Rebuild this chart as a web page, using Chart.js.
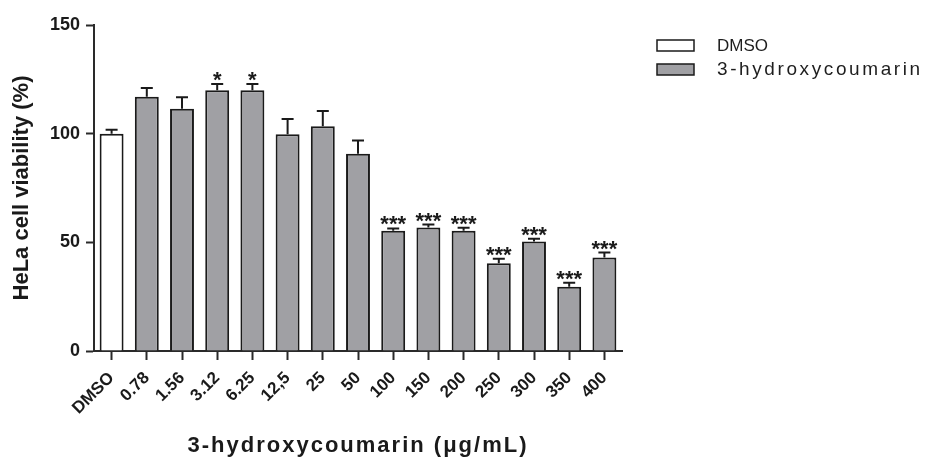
<!DOCTYPE html>
<html>
<head>
<meta charset="utf-8">
<script src="https://cdn.jsdelivr.net/npm/chart.js@4.4.1/dist/chart.umd.min.js"></script>
<style>
html,body{margin:0;padding:0;background:#fff;}
canvas{display:block;}
</style>
</head>
<body>
<canvas id="c" width="929" height="459"></canvas>
<script>
const categories = ['DMSO','0.78','1.56','3.12','6.25','12,5','25','50','100','150','200','250','300','350','400'];
const dmsoValues = [100, null, null, null, null, null, null, null, null, null, null, null, null, null, null];
const hcValues = [null, 117, 111.5, 120, 120, 99.7, 103.4, 90.8, 55.3, 56.8, 55.3, 40.4, 50.4, 29.6, 43.0];
const errValues = [1.8, 4.0, 5.2, 2.8, 2.8, 7.0, 7.0, 6.1, 1.1, 1.4, 1.4, 2.0, 1.2, 1.8, 2.3];
const sigMarks = ['', '', '', '*', '*', '', '', '', '***', '***', '***', '***', '***', '***', '***'];
const yTicks = [0, 50, 100, 150];
const seriesNames = ['DMSO', '3-hydroxycoumarin'];
const xTitle = '3-hydroxycoumarin (\u03bcg/mL)';
const yTitle = 'HeLa cell viability (%)';

const FONT = "'Liberation Sans', Arial, sans-serif";
const INK = '#1a1a1a';

const errorBarPlugin = {
  id: 'errorBars',
  afterDatasetsDraw(chart) {
    const ctx = chart.ctx;
    const y = chart.scales.y;
    ctx.save();
    ctx.strokeStyle = INK;
    ctx.lineWidth = 2;
    chart.data.datasets.forEach((ds, di) => {
      const meta = chart.getDatasetMeta(di);
      meta.data.forEach((bar, i) => {
        const v = ds.data[i];
        if (v === null || v === undefined) return;
        const top = y.getPixelForValue(v);
        const et = y.getPixelForValue(v + errValues[i]);
        ctx.beginPath();
        ctx.moveTo(bar.x, top);
        ctx.lineTo(bar.x, et);
        ctx.moveTo(bar.x - 6, et);
        ctx.lineTo(bar.x + 6, et);
        ctx.stroke();
        const s = sigMarks[i];
        if (s) {
          ctx.fillStyle = INK;
          ctx.font = 'bold 22px ' + FONT;
          ctx.textAlign = 'center';
          ctx.textBaseline = 'alphabetic';
          ctx.fillText(s, bar.x, et + 3);
        }
      });
    });
    ctx.restore();
  }
};

const legendPlugin = {
  id: 'sideLegend',
  afterDraw(chart) {
    const ctx = chart.ctx;
    ctx.save();
    chart.data.datasets.forEach((ds, i) => {
      const bx = 657, by = 40 + i * 24;
      ctx.fillStyle = ds.backgroundColor;
      ctx.fillRect(bx, by, 37, 11);
      ctx.strokeStyle = INK;
      ctx.lineWidth = 1.5;
      ctx.strokeRect(bx, by, 37, 11);
      ctx.fillStyle = '#1e1e1e';
      ctx.font = (i === 1 ? '19px ' : '17px ') + FONT;
      ctx.textAlign = 'left';
      ctx.textBaseline = 'middle';
      ctx.letterSpacing = i === 1 ? '2.6px' : '0px';
      ctx.fillText(ds.label, 717, by + 6);
    });
    ctx.restore();
  }
};

const titleSpacingPlugin = {
  id: 'titleSpacing',
  beforeDraw(chart) {
    const s = chart.scales.x;
    if (s && !s._spaced) {
      const orig = s.drawTitle;
      s.drawTitle = function () {
        this.ctx.save();
        this.ctx.letterSpacing = '2px';
        orig.call(this);
        this.ctx.restore();
      };
      s._spaced = true;
    }
  }
};

new Chart(document.getElementById('c'), {
  type: 'bar',
  data: {
    labels: categories,
    datasets: [
      { label: seriesNames[0], data: dmsoValues, backgroundColor: '#ffffff', borderColor: INK, borderWidth: 2, grouped: false, barPercentage: 0.68, categoryPercentage: 1 },
      { label: seriesNames[1], data: hcValues, backgroundColor: '#a0a0a4', borderColor: INK, borderWidth: 2, grouped: false, barPercentage: 0.68, categoryPercentage: 1 }
    ]
  },
  options: {
    responsive: false,
    animation: false,
    devicePixelRatio: 1,
    layout: { padding: { left: 4, right: 307, top: 25, bottom: 0 } },
    plugins: { legend: { display: false }, tooltip: { enabled: false } },
    scales: {
      x: {
        grid: { display: true, drawOnChartArea: false, offset: false, tickLength: 9, tickWidth: 2, tickColor: '#2a2a2a' },
        border: { display: true, color: '#2a2a2a', width: 2 },
        ticks: { color: INK, font: { family: FONT, size: 17, weight: 'bold' }, maxRotation: 45, minRotation: 45, padding: 8, autoSkip: false },
        title: { display: true, text: xTitle, color: INK, font: { family: FONT, size: 22, weight: 'bold' }, padding: { top: 0, bottom: 0 } },
        afterFit(scale) { scale.height = 108; }
      },
      y: {
        min: 0, max: 150,
        afterBuildTicks(scale) { scale.ticks = yTicks.map(v => ({ value: v })); },
        grid: { display: true, drawOnChartArea: false, tickLength: 8, tickWidth: 2, tickColor: '#2a2a2a' },
        border: { display: true, color: '#2a2a2a', width: 2 },
        ticks: { color: INK, font: { family: FONT, size: 18, weight: 'bold' }, padding: 6 },
        title: { display: true, text: yTitle, color: INK, font: { family: FONT, size: 22, weight: 'bold' }, padding: { top: 5, bottom: 0 } },
        afterFit(scale) { scale.width = 90; }
      }
    }
  },
  plugins: [errorBarPlugin, legendPlugin, titleSpacingPlugin]
});
</script>
</body>
</html>
